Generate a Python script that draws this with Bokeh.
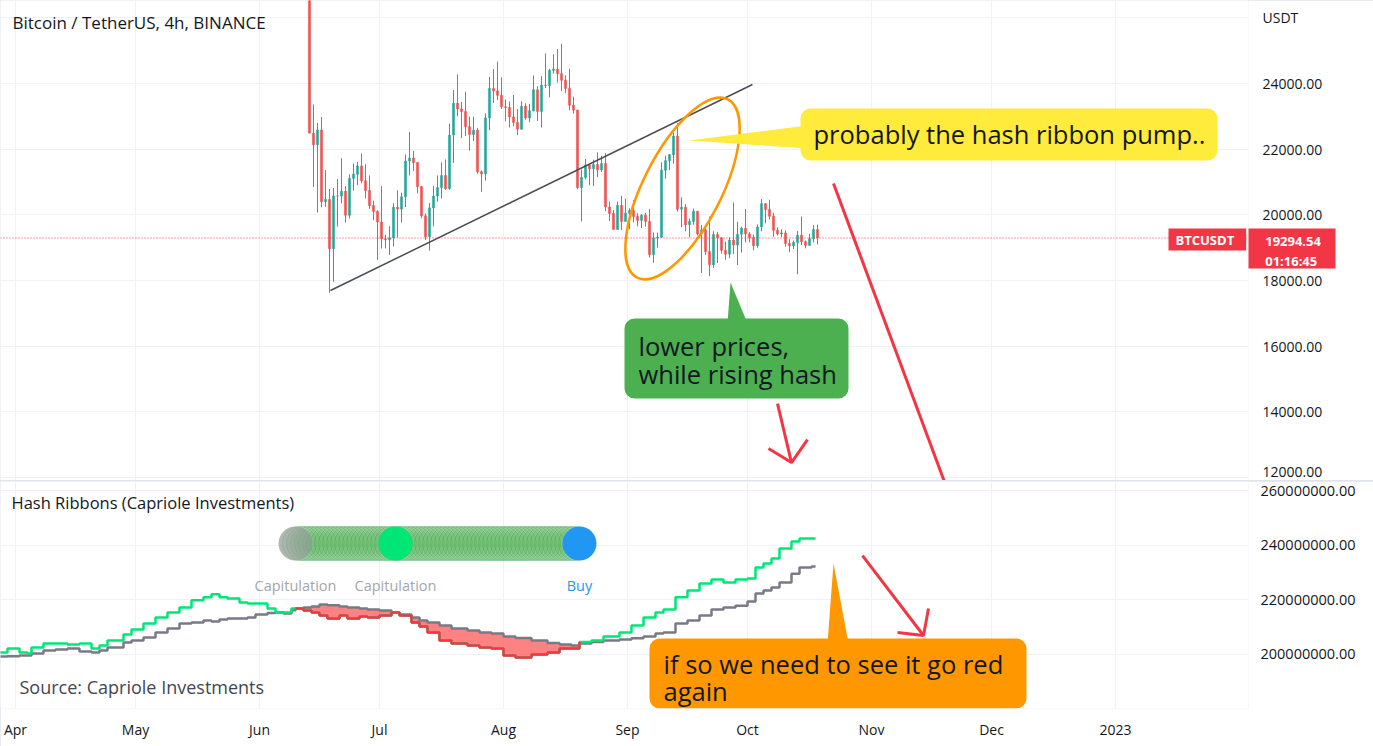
import numpy as np
import pandas as pd
from bokeh.plotting import figure
from bokeh.layouts import column
from bokeh.models import (ColumnDataSource, Range1d, FixedTicker, NumeralTickFormatter,
                          Span, Label, BoxAnnotation, Grid)
from bokeh.embed import file_html
from bokeh.resources import INLINE

# ---------------- data ----------------
candle_start = "2022-06-13"   # daily candles, consecutive days
opens = [26574,22487,22136,22583,20401,20468,18970,20574,20573,20720,19987,21110,21237,21491,21038,20742,20281,20105,
         19785,19269,19243,19297,20232,20175,20548,21637,21731,21592,20860,19970,19330,20212,20570,20830,21195,20800,22430,23395,23225,23150,22685,22450,22580,21310,21250,22950,23850,23775,23640,
         23290,23270,22980,22815,22610,23310,22950,23170,23810,23150,23950,23930,24400,24440,24300,24100,23850,23340,23190,20830,21140,21520,21400,21530,21370,21560,20240,20040,19550,20290,19800,
         20050,20130,19950,19830,19990,19800,18790,19290,19320,21360,21650,21830,22400,20170,20230,19700,19800,20110,19420,19540,18880,18480,19400,19300,18920,18800,19230,19080,19410,19590,
         19420,19310,19060,19630,20340,20160,19960,19530,19420,19450,19130,19060,19160,19380,19180,19070,19270,19550]
highs = [26895,23362,22800,22980,21365,20787,20815,21090,21723,20873,21233,21558,21614,21868,21539,21200,20432,20141,
         20876,19394,19654,20354,20750,20675,21837,22527,21950,21600,20880,20045,20360,20880,21200,21600,21685,22780,23800,24280,23440,23750,22990,22990,22650,21350,23090,24200,24440,24670,24190,
         23510,23450,23650,23220,23460,23400,23380,24245,23920,24220,24920,24450,24890,25050,25210,24250,24450,23600,23200,21380,21700,21520,21680,21900,21800,21880,20400,20150,20400,20580,20490,
         20200,20450,20050,20020,20060,20180,19460,19460,21600,21800,21850,22500,22800,20530,20330,19890,20190,20110,19690,19640,19950,19500,19480,19310,19180,19310,20380,19790,19640,20180,
         19480,19400,19710,20480,20360,20460,20060,19620,19560,19530,19260,19220,19510,19950,19220,19420,19690,19700]
lows = [22600,20846,20071,20232,20246,17622,17960,19637,20348,19770,19890,20740,20906,20960,20500,20183,19840,18626,
        18975,18978,18781,19040,19305,19767,20238,21200,21340,20650,19900,19230,18910,19650,20400,20500,20760,20760,21580,23000,22340,22400,21950,22250,21250,20700,21040,22580,23410,23500,23225,
        22850,22660,22700,22430,22590,22900,22820,23150,22860,22660,23860,23580,24300,24030,23770,23700,23180,23080,20780,19800,21080,20900,20880,21150,21310,20110,19810,19600,19550,19540,19800,
        19560,19770,19650,19600,19640,18700,18540,19000,19300,21100,21360,21560,20100,19620,19500,19320,19700,19370,18230,18780,18130,18380,18530,18820,18630,18680,18810,18470,18850,19160,
        19160,18920,19000,19500,19740,19860,19330,19370,19320,19030,18860,18960,18190,19080,18980,19070,19160,19100]
closes = [22487,22136,22583,20401,20468,18970,20574,20573,20720,19987,21110,21237,21491,21038,20742,20281,20105,19785,
          19269,19243,19297,20232,20175,20548,21637,21731,21592,20860,19970,19330,20212,20570,20830,21195,20800,22430,23395,23225,23150,22685,22450,22580,21310,21250,22950,23850,23775,23640,23290,
          23270,22980,22815,22610,23310,22950,23170,23810,23150,23950,23930,24400,24440,24300,24100,23850,23340,23190,20830,21140,21520,21400,21530,21370,21560,20240,20040,19550,20290,19800,20050,
          20130,19950,19830,19990,19800,18790,19290,19320,21360,21650,21830,22400,20170,20230,19700,19800,20110,19420,19540,18880,18480,19400,19300,18920,18800,19230,19080,19410,19590,19420,
          19310,19060,19630,20340,20160,19960,19530,19420,19450,19130,19060,19160,19380,19180,19070,19270,19550,19295]
last_price = 19294.54
countdown = "01:16:45"

hash_dates = ["2022-03-28","2022-03-30","2022-04-02","2022-04-04","2022-04-05","2022-04-08","2022-04-11","2022-04-14",
              "2022-04-17","2022-04-20","2022-04-22","2022-04-24","2022-04-28","2022-04-30","2022-05-03","2022-05-06",
              "2022-05-09","2022-05-12","2022-05-15","2022-05-18","2022-05-20","2022-05-22","2022-05-24","2022-05-27",
              "2022-05-29","2022-05-31","2022-06-03","2022-06-05","2022-06-07","2022-06-09","2022-06-10","2022-06-12",
              "2022-06-14","2022-06-16","2022-06-18","2022-06-21","2022-06-23","2022-06-26","2022-06-28","2022-07-01",
              "2022-07-04","2022-07-06","2022-07-09","2022-07-11","2022-07-13","2022-07-16","2022-07-19","2022-07-23",
              "2022-07-26","2022-07-29","2022-08-01","2022-08-04","2022-08-08","2022-08-12","2022-08-15","2022-08-18",
              "2022-08-20","2022-08-23","2022-08-26","2022-08-30","2022-09-02","2022-09-05","2022-09-08","2022-09-10",
              "2022-09-13","2022-09-16","2022-09-19","2022-09-22","2022-09-25","2022-09-28","2022-10-01","2022-10-03",
              "2022-10-05","2022-10-07","2022-10-09","2022-10-12","2022-10-14","2022-10-17","2022-10-18"]
hash_30d = [200.7,202.2,200.7,200.4,202.6,204.0,204.0,203.7,204.0,202.2,203.3,205.1,207.3,209.1,211.3,213.5,
            215.4,217.2,219.8,220.9,222.0,220.9,220.5,219.0,218.7,218.7,216.8,215.4,215.4,216.8,216.8,216.1,
            215.4,214.3,213.2,214.3,213.2,213.9,213.5,214.3,215.4,214.3,211.7,210.2,208.0,205.1,204.0,203.3,
            202.6,202.2,199.6,198.9,200.0,200.7,202.2,202.2,204.6,205.1,206.6,208.0,210.6,213.5,215.4,216.5,
            220.9,223.4,226.0,227.4,226.3,227.4,227.8,231.8,233.3,235.1,238.8,241.3,242.4,242.4,242.4]
hash_60d = [199.3,199.4,199.6,199.6,200.4,201.5,201.8,202.2,201.1,200.7,201.5,202.6,204.4,205.1,206.2,208.0,
            209.5,211.3,211.7,212.4,212.1,212.8,213.2,213.2,213.5,214.6,215.2,215.4,215.0,216.2,216.8,217.2,
            217.6,218.3,218.0,217.6,217.2,216.8,216.5,216.1,215.4,214.6,213.5,212.4,211.7,210.6,209.5,208.8,
            208.0,207.7,206.6,206.0,205.1,204.2,203.7,203.3,204.0,204.6,205.1,205.5,205.9,206.6,207.7,208.0,
            211.3,212.4,214.3,216.5,217.2,217.8,219.4,222.3,223.4,224.5,226.3,229.5,231.8,232.2,232.2]  # millions

capitulation_start = "2022-06-11"
capitulation_end = "2022-08-19"
signal_dates = ["2022-06-10", "2022-07-05", "2022-08-20"]
signal_colors = ["#8f9a93", "#00e676", "#2196f3"]
signal_labels = ["Capitulation", "Capitulation", "Buy"]
signal_label_colors = ["#a3a6ae", "#a3a6ae", "#2196f3"]

month_ticks = ["2022-04-01","2022-05-01","2022-06-01","2022-07-01","2022-08-01","2022-09-01",
               "2022-10-01","2022-11-01","2022-12-01","2023-01-01"]
month_labels = ["Apr","May","Jun","Jul","Aug","Sep","Oct","Nov","Dec","2023"]

price_ticks = [12000,14000,16000,18000,20000,22000,24000,26000]
hash_ticks = [200e6, 220e6, 240e6, 260e6]

# ---------------- helpers ----------------
ORIGIN = pd.Timestamp("2022-04-01")
def to_day(d):
    return (pd.to_datetime(d) - ORIGIN) / pd.Timedelta(days=1)

FONT = "Open Sans"
GRID = "#eef1f5"
TXT = "#131722"
GREEN, RED = "#26a69a", "#ef5350"
TAG = "#f23645"

x_range = Range1d(-3.75, 308.25)
price_range = Range1d(11909, 26528)

# ---------------- top (price) pane ----------------
p1 = figure(width=1373, height=480, x_range=x_range, y_range=price_range,
            output_backend="svg", toolbar_location=None, x_axis_location=None,
            y_axis_location="right", min_border_left=0, min_border_right=125,
            min_border_top=0, min_border_bottom=0, outline_line_color=None)
month_days = [int(round(to_day(d))) for d in month_ticks]
if len(p1.xgrid) == 0:
    p1.add_layout(Grid(dimension=0, ticker=FixedTicker(ticks=month_days)))
else:
    p1.xgrid.ticker = FixedTicker(ticks=month_days)
p1.xgrid.grid_line_color = GRID
p1.ygrid.grid_line_color = GRID
p1.ygrid.ticker = FixedTicker(ticks=price_ticks)

# price scale; the last-price tag box is a thick minor tick drawn outward, its text the axis label
px_per_price = 480 / (price_range.end - price_range.start)
tag_center = last_price - 10 / px_per_price
p1.yaxis.ticker = FixedTicker(ticks=price_ticks, minor_ticks=[tag_center])
p1.yaxis.formatter = NumeralTickFormatter(format="0.00")
p1.yaxis.major_label_overrides = {26000: "USDT"}
for ax in p1.yaxis:
    ax.axis_line_color = None
    ax.major_tick_line_color = None
    ax.major_tick_out = 0
    ax.major_tick_in = 0
    ax.minor_tick_line_color = TAG
    ax.minor_tick_line_width = 40
    ax.minor_tick_line_cap = "butt"
    ax.minor_tick_out = 0
    ax.minor_tick_in = -87
    ax.major_label_standoff = 14
    ax.major_label_text_font = FONT
    ax.major_label_text_font_size = "14px"
    ax.major_label_text_color = TXT
    ax.axis_label = "\n" + f"{last_price:.2f}" + "\n" + countdown
    ax.axis_label_orientation = "horizontal"
    ax.axis_label_standoff = -60
    ax.axis_label_text_font = FONT
    ax.axis_label_text_font_size = "13px"
    ax.axis_label_text_font_style = "bold"
    ax.axis_label_text_color = "white"
    ax.axis_label_text_line_height = 1.13

cdates = pd.date_range(candle_start, periods=len(closes), freq="D")
cx = np.array([to_day(d) for d in cdates]) + 0.5
o, h, l, c = map(np.array, (opens, highs, lows, closes))
colors = np.where(c >= o, GREEN, RED)
csrc = ColumnDataSource(dict(x=cx, o=o, h=h, l=l, c=c, top=np.maximum(o, c),
                             bot=np.minimum(o, c), color=colors))
p1.segment(x0="x", y0="h", x1="x", y1="l", color="color", line_width=1, source=csrc)
p1.vbar(x="x", top="top", bottom="bot", width=0.55, fill_color="color", line_color="color",
        line_width=0.5, source=csrc)

p1.add_layout(Span(location=last_price, dimension="width", line_color=TAG,
                   line_dash="1 2", line_width=1))

# trend line and hand-drawn loop
p1.line(x=[78.75, 184.25], y=[17695, 23970], line_color="#4a4d57", line_width=1.5)
p1.ellipse(x=[166.75], y=[20802], width=[200], height=[78], angle=[1.10],
           width_units="screen", height_units="screen", fill_color=None,
           line_color="#ff9800", line_width=2.5)

# yellow callout
p1.patch(x=[168.25, 198.0, 198.0], y=[22264, 22721, 22020], fill_color="#ffeb3b", line_color=None)
p1.add_layout(BoxAnnotation(left=196.25, right=300.5, top=23238, bottom=21655,
                            fill_color="#ffeb3b", fill_alpha=1, line_color=None, border_radius=10))
p1.add_layout(Label(x=199.5, y=22447, text="probably the hash ribbon pump..", text_font=FONT,
                    text_font_size="25.5px", text_color=TXT, text_baseline="middle"))

# green callout
p1.patch(x=[178.0, 183.0, 178.75], y=[16700, 16700, 17938], fill_color="#4caf50", line_color=None)
p1.add_layout(BoxAnnotation(left=152.25, right=208.25, top=16842, bottom=14405,
                            fill_color="#4caf50", fill_alpha=1, line_color=None, border_radius=10))
p1.add_layout(Label(x=155.75, y=16019, text="lower prices,", text_font=FONT,
                    text_font_size="25.5px", text_color=TXT, text_baseline="middle"))
p1.add_layout(Label(x=155.75, y=15167, text="while rising hash", text_font=FONT,
                    text_font_size="25.5px", text_color=TXT, text_baseline="middle"))

# red arrows (top)
p1.multi_line(xs=[[190.5, 194.0], [188.25, 194.0, 198.0], [204.5, 232.3]],
              ys=[[14253, 12456], [12882, 12456, 13156], [20954, 11850]],
              line_color=TAG, line_width=3)

p1.add_layout(Label(x=-0.75, y=25858, text="Bitcoin / TetherUS, 4h, BINANCE", text_font=FONT,
                    text_font_size="17px", text_color=TXT, text_baseline="middle"))

p1.add_layout(Label(x=288.25, y=19583, text="BTCUSDT", text_font=FONT, text_font_size="13px",
                    text_font_style="bold", text_color="white", text_baseline="top",
                    background_fill_color=TAG,
                    padding=dict(left=7, right=12, top=2, bottom=2)))

# ---------------- bottom (hash ribbons) pane ----------------
p2 = figure(width=1373, height=265, x_range=x_range, y_range=Range1d(180.24e6, 263.29e6),
            output_backend="svg", toolbar_location=None, y_axis_location="right",
            min_border_left=0, min_border_right=125, min_border_top=0, min_border_bottom=38,
            outline_line_color=None)
p2.xgrid.ticker = FixedTicker(ticks=month_days)
p2.xgrid.grid_line_color = GRID
p2.ygrid.grid_line_color = GRID
p2.yaxis.ticker = FixedTicker(ticks=hash_ticks)
p2.yaxis.formatter = NumeralTickFormatter(format="0.00")
for ax in p2.yaxis:
    ax.axis_line_color = None
    ax.major_tick_line_color = None
    ax.minor_tick_line_color = None
    ax.major_tick_out = 0
    ax.major_label_standoff = 12
    ax.major_label_text_font = FONT
    ax.major_label_text_font_size = "14.5px"
    ax.major_label_text_color = TXT
p2.xaxis.ticker = FixedTicker(ticks=month_days)
p2.xaxis.major_label_overrides = {d: lab for d, lab in zip(month_days, month_labels)}
for ax in p2.xaxis:
    ax.axis_line_color = None
    ax.major_tick_line_color = None
    ax.minor_tick_line_color = None
    ax.major_tick_out = 0
    ax.major_label_standoff = 11
    ax.major_label_text_font = FONT
    ax.major_label_text_font_size = "14px"
    ax.major_label_text_color = TXT

hx = np.array([to_day(d) for d in hash_dates])
g = np.array(hash_30d) * 1e6
k = np.array(hash_60d) * 1e6
hsrc = ColumnDataSource(dict(x=hx, g=g, k=k, low=np.minimum(g, k)))
p2.varea_step(x="x", y1="k", y2="low", step_mode="after", fill_color="#ff5252",
              fill_alpha=0.72, source=hsrc)
p2.step(x="x", y="k", mode="after", line_color="#787b86", line_width=2.5, source=hsrc)
p2.step(x="x", y="g", mode="after", line_color="#00e676", line_width=2.5, source=hsrc)
cap_idx = np.where(g < k)[0]
i0, i1 = max(cap_idx.min() - 1, 0), cap_idx.max() + 2
rsrc = ColumnDataSource(dict(x=hx[i0:i1], g=g[i0:i1]))
p2.step(x="x", y="g", mode="after", line_color=TAG, line_width=2.5, source=rsrc)

# capitulation dots
cap_days = np.array([to_day(d) for d in pd.date_range(capitulation_start, capitulation_end, freq="D")])
dot_y = 240.6e6
p2.scatter(x=cap_days, y=np.full(len(cap_days), dot_y), size=34, fill_color="#4caf50",
           fill_alpha=0.15, line_color="#3d9a41", line_alpha=0.3)
sig_x = np.array([to_day(d) for d in signal_dates])
p2.scatter(x=sig_x, y=np.full(len(sig_x), dot_y), size=34, fill_color=signal_colors,
           line_color=None, fill_alpha=[0.7, 1, 1])
for sx, lab, col in zip(sig_x, signal_labels, signal_label_colors):
    p2.add_layout(Label(x=sx, y=225.2e6, text=lab, text_font=FONT, text_font_size="14.5px",
                        text_color=col, text_align="center", text_baseline="middle"))

# orange callout
p2.patch(x=[203.0, 208.25, 204.5], y=[204.0e6, 204.0e6, 233.3e6], fill_color="#ff9800", line_color=None)
p2.add_layout(BoxAnnotation(left=158.5, right=252.75, top=205.85e6, bottom=180.24e6,
                            fill_color="#ff9800", fill_alpha=1, line_color=None, border_radius=10))
p2.add_layout(Label(x=162.0, y=196.7e6, text="if so we need to see it go red", text_font=FONT,
                    text_font_size="25.5px", text_color=TXT, text_baseline="middle"))
p2.add_layout(Label(x=162.0, y=186.46e6, text="again", text_font=FONT,
                    text_font_size="25.5px", text_color=TXT, text_baseline="middle"))

# red arrow (bottom)
p2.multi_line(xs=[[211.75, 227.0], [220.5, 227.0, 228.25]],
              ys=[[236.2e6, 206.95e6], [208.05e6, 206.95e6, 216.83e6]],
              line_color=TAG, line_width=3)

p2.add_layout(Label(x=-1.0, y=255.6e6, text="Hash Ribbons (Capriole Investments)", text_font=FONT,
                    text_font_size="16.5px", text_color=TXT, text_baseline="middle"))
p2.add_layout(Label(x=1.0, y=187.93e6, text="Source: Capriole Investments", text_font=FONT,
                    text_font_size="18px", text_color="#434651", text_baseline="middle"))

layout = column(p1, p2, spacing=1, styles={"background-color": "#e0e3eb"})
open("out.html", "w").write(file_html(layout, INLINE))
